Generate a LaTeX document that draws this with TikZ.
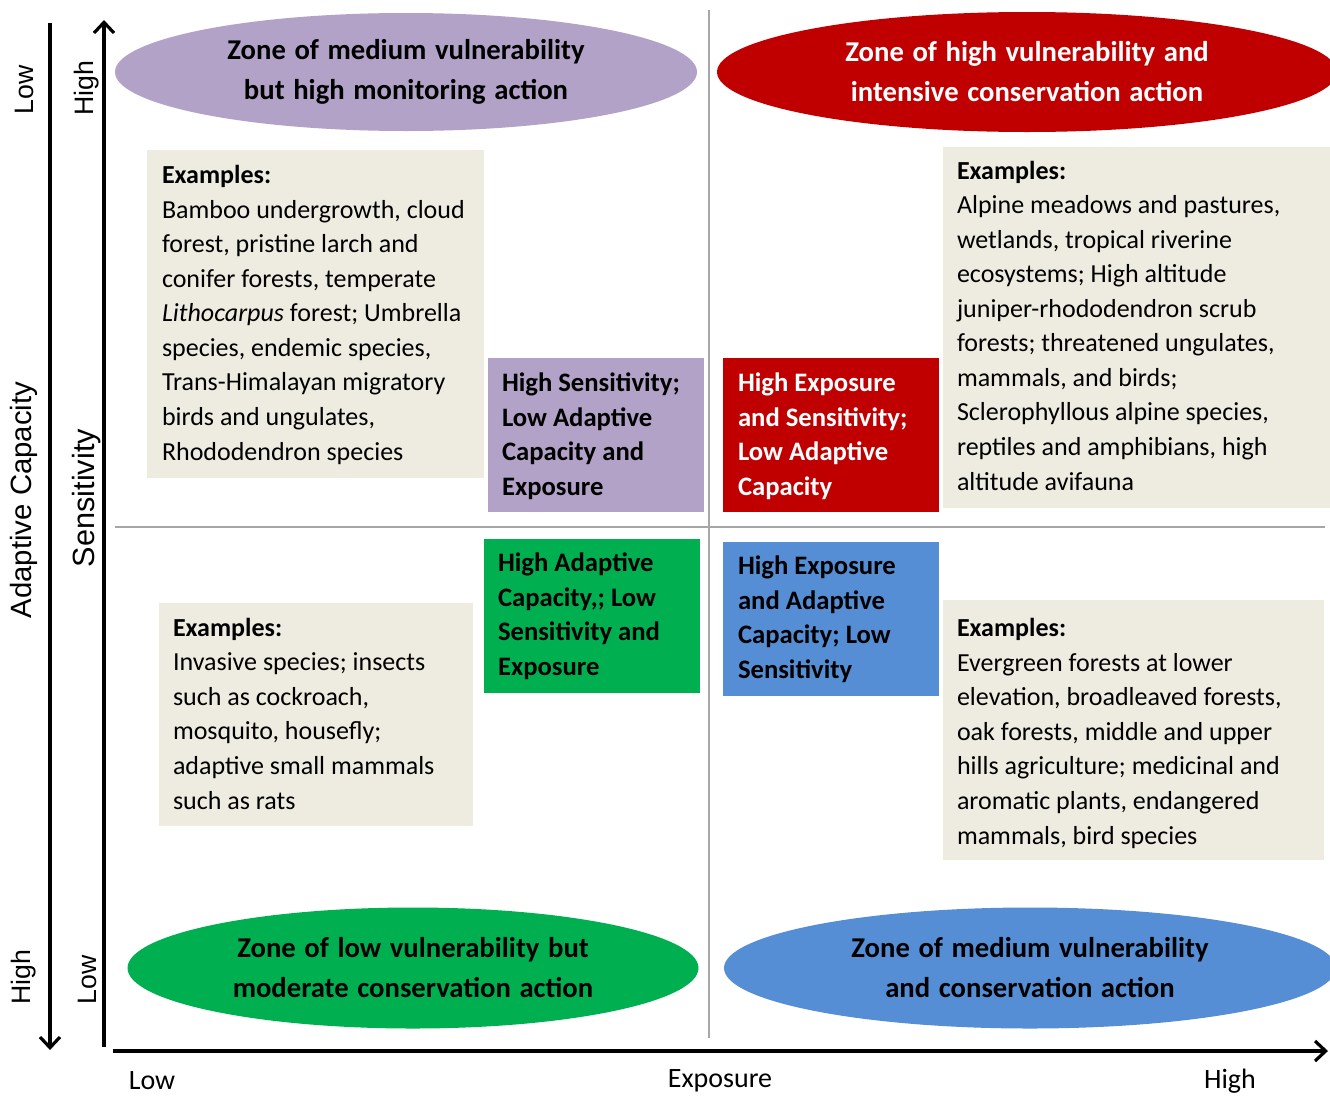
\documentclass[tikz,border=0pt]{standalone}
\usepackage{fontspec}
\setmainfont{Carlito}
\newfontfamily\axisfont{Liberation Sans}
\usetikzlibrary{shapes.geometric,arrows.meta}
\newdimen\pxu \pxu=0.75pt
\definecolor{zonepurple}{HTML}{B3A2C7}
\definecolor{zonered}{HTML}{C00000}
\definecolor{zonegreen}{HTML}{00B050}
\definecolor{zoneblue}{HTML}{558ED5}
\definecolor{panel}{HTML}{EEECE1}
\definecolor{gridgray}{HTML}{A6A6A6}
\newcommand\zonefont{\fontsize{21.5}{30}\selectfont\bfseries\spaceskip=0.3em plus 0.1em\relax}
\begin{document}
\begin{tikzpicture}[x=0.75pt,y=-0.75pt,
  every node/.style={inner sep=0pt,outer sep=0pt},
  zone/.style 2 args={ellipse,minimum width=#1\pxu,minimum height=#2\pxu,
    align=center,font=\zonefont},
  panelbox/.style 2 args={anchor=north west,fill=panel,minimum width=#1\pxu,minimum height=#2\pxu},
  tagbox/.style={anchor=north west,minimum width=216\pxu,minimum height=154\pxu},
  % multi-line texts are placed by the baseline of their last line
  bodytext/.style={anchor=base west,align=left,font=\fontsize{19.5}{25.9}\selectfont},
  tagtext/.style={anchor=base west,align=left,font=\fontsize{20}{25.9}\selectfont\bfseries},
  axislab/.style={font=\axisfont\fontsize{20}{24}\selectfont},
  explab/.style={font=\fontsize{21}{24}\selectfont},
  axis/.style={line width=2.6pt,-{Straight Barb[length=8pt,width=15pt,line width=2.4pt]}},
  gridline/.style={draw=gridgray,line width=1.4pt}]
\useasboundingbox (0,0) rectangle (1330,1096);
\clip (0,0) rectangle (1330,1096);

% quadrant dividers
\coordinate (v-top) at (709,10);
\coordinate (v-bot) at (709,1038);
\coordinate (h-left) at (115,527);
\coordinate (h-right) at (1325,527);
\draw[gridline] (v-top) -- (v-bot);
\draw[gridline] (h-left) -- (h-right);

% zone ellipses
\node[zone={582}{118},fill=zonepurple] (z-tl) at (406,72)
  {Zone of medium vulnerability\\but high monitoring action};
\node[zone={620}{120},fill=zonered,text=white] (z-tr) at (1027,72)
  {Zone of high vulnerability and\\intensive conservation action};
\node[zone={571}{121},fill=zonegreen] (z-bl) at (413,968)
  {Zone of low vulnerability but\\moderate conservation action};
\node[zone={612}{121},fill=zoneblue] (z-br) at (1030,968)
  {Zone of medium vulnerability\\and conservation action};

% example panels
\node[panelbox={337}{328}] (p-tl) at (147,150) {};
\node[panelbox={390}{361}] (p-tr) at (943,147) {};
\node[panelbox={314}{223}] (p-bl) at (159,603) {};
\node[panelbox={381}{260}] (p-br) at (943,600) {};

\node[bodytext] (t-tl) at (162,460) {\textbf{Examples:}\\
  Bamboo undergrowth, cloud\\
  forest, pristine larch and\\
  conifer forests, temperate\\
  \textit{Lithocarpus} forest; Umbrella\\
  species, endemic species,\\
  Trans-Himalayan migratory\\
  birds and ungulates,\\
  Rhododendron species};
\node[bodytext] (t-tr) at (957,490) {\textbf{Examples:}\\
  Alpine meadows and pastures,\\
  wetlands, tropical riverine\\
  ecosystems; High altitude\\
  juniper-rhododendron scrub\\
  forests; threatened  ungulates,\\
  mammals, and birds;\\
  Sclerophyllous alpine species,\\
  reptiles and amphibians, high\\
  altitude avifauna};
\node[bodytext] (t-bl) at (173,809) {\textbf{Examples:}\\
  Invasive species; insects\\
  such as cockroach,\\
  mosquito, housefly;\\
  adaptive small mammals\\
  such as rats};
\node[bodytext] (t-br) at (957,844) {\textbf{Examples:}\\
  Evergreen forests at lower\\
  elevation, broadleaved forests,\\
  oak forests, middle and upper\\
  hills agriculture; medicinal and\\
  aromatic plants, endangered\\
  mammals, bird species};

% quadrant tags
\node[tagbox,fill=zonepurple] (b-tl) at (488,358) {};
\node[tagbox,fill=zonered] (b-tr) at (723,358) {};
\node[tagbox,fill=zonegreen] (b-bl) at (484,539) {};
\node[tagbox,fill=zoneblue] (b-br) at (723,542) {};

\node[tagtext] (g-tl) at (502,495.5) {High Sensitivity;\\Low Adaptive\\Capacity and\\Exposure};
\node[tagtext,text=white] (g-tr) at (738,495.5) {High Exposure\\and  Sensitivity;\\Low Adaptive\\Capacity};
\node[tagtext] (g-bl) at (498,675.5) {High Adaptive\\Capacity,; Low\\Sensitivity and\\Exposure};
\node[tagtext] (g-br) at (738,678.5) {High  Exposure\\and Adaptive\\Capacity; Low\\Sensitivity};

% axes
\coordinate (ac-top) at (50,23);
\coordinate (ac-bot) at (50,1050);
\coordinate (se-bot) at (104,1047);
\coordinate (se-top) at (104,20);
\coordinate (ex-left) at (113,1051);
\coordinate (ex-right) at (1328,1051);
\draw[axis] (ac-top) -- (ac-bot);
\draw[axis] (se-bot) -- (se-top);
\draw[axis] (ex-left) -- (ex-right);

% axis labels
\node[axislab,rotate=90] (l-ac-low) at (24,90) {Low};
\node[axislab,rotate=90,font=\axisfont\fontsize{22}{24}\selectfont] (l-ac) at (24,500) {Adaptive Capacity};
\node[axislab,rotate=90] (l-ac-high) at (24,977) {High};
\node[axislab,rotate=90] (l-se-high) at (87,88) {High};
\node[axislab,rotate=90,font=\axisfont\fontsize{23}{24}\selectfont] (l-se) at (87,498) {Sensitivity};
\node[axislab,rotate=90] (l-se-low) at (87,980) {Low};
\node[explab] (l-ex-low) at (152,1081) {Low};
\node[explab] (l-ex) at (720,1081) {Exposure};
\node[explab] (l-ex-high) at (1230,1081) {High};
\end{tikzpicture}
\end{document}
